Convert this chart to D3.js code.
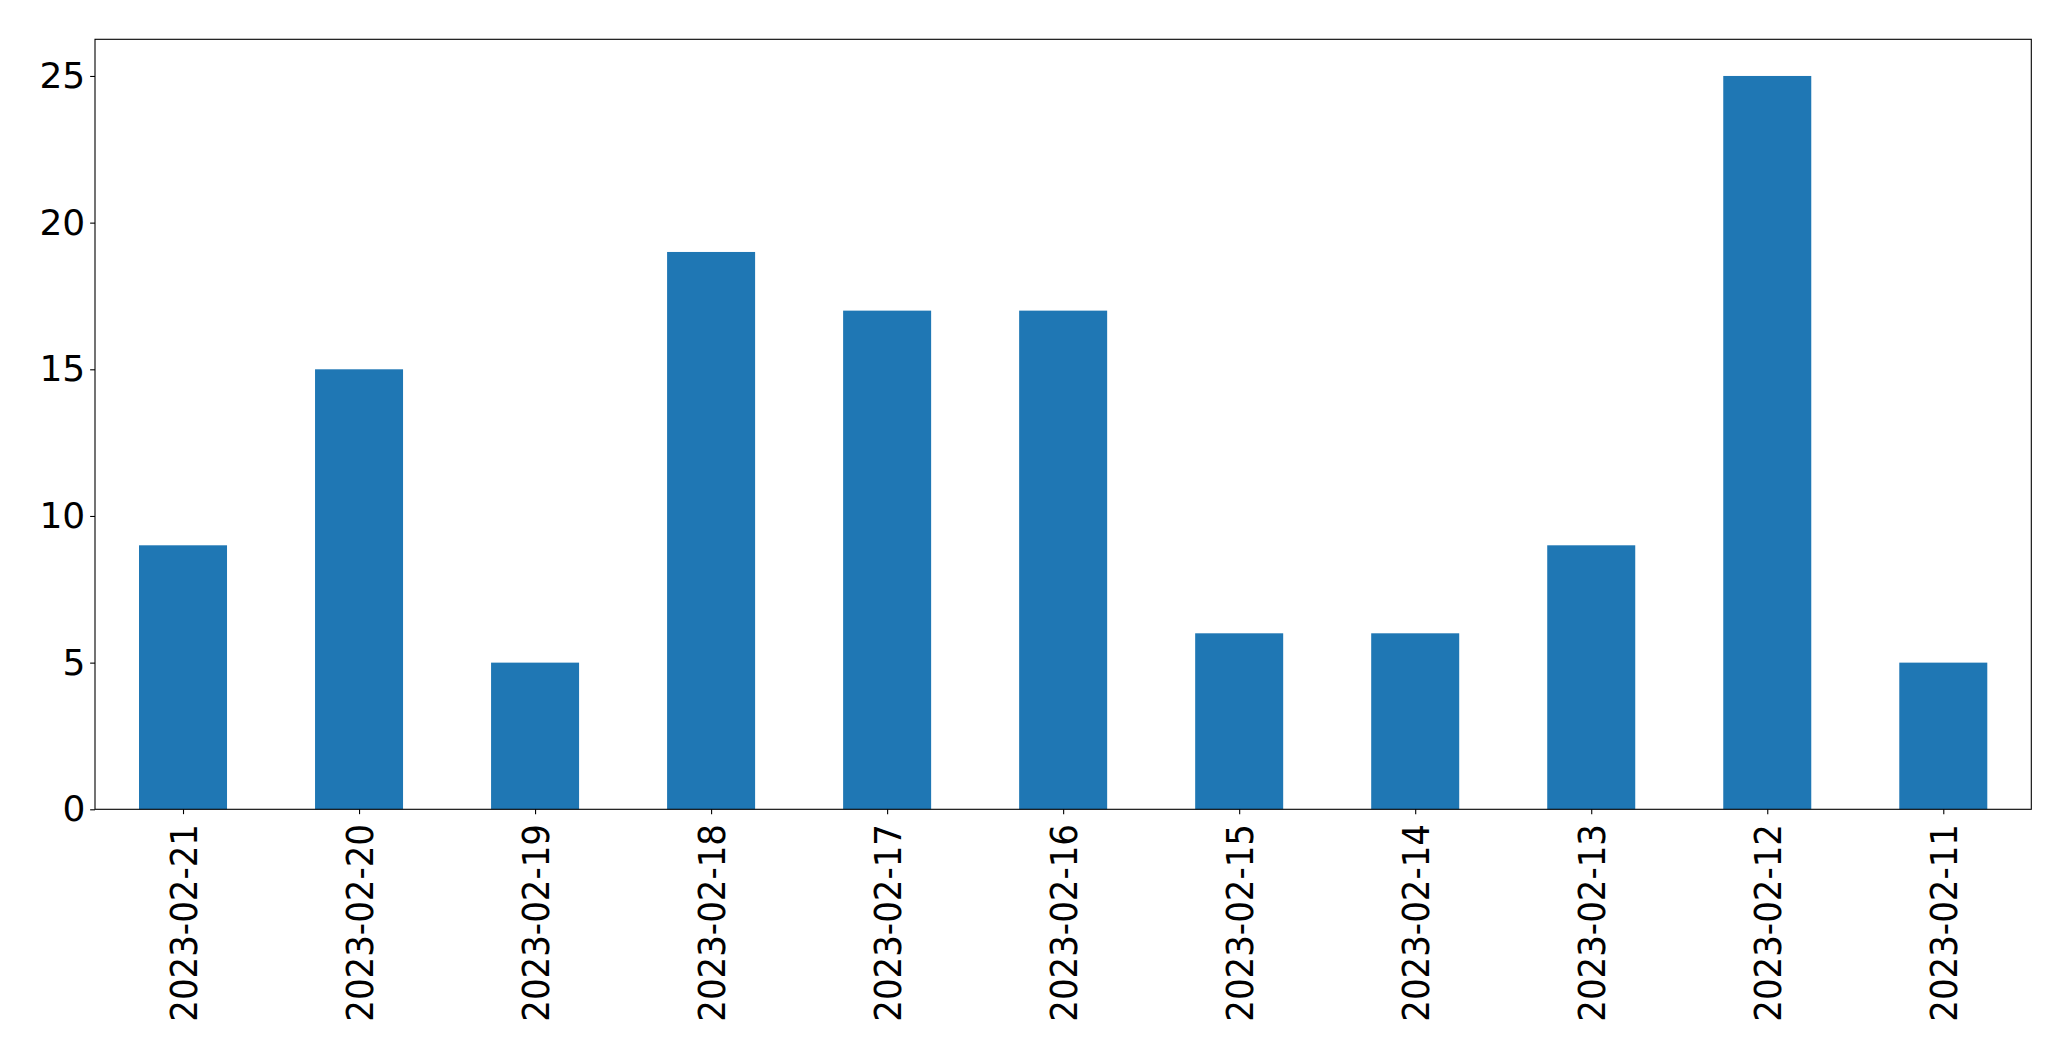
<!DOCTYPE html>
<html>
<head>
<meta charset="utf-8">
<script src="https://cdn.jsdelivr.net/npm/d3@7"></script>
<style>
  body { margin: 0; background: #fff; }
  svg text { font-family: "DejaVu Sans", sans-serif; fill: #000; }
</style>
</head>
<body>
<svg id="chart" width="2071" height="1061"></svg>
<script>
// data
var dates = ["2023-02-21", "2023-02-20", "2023-02-19", "2023-02-18", "2023-02-17",
             "2023-02-16", "2023-02-15", "2023-02-14", "2023-02-13", "2023-02-12", "2023-02-11"];
var counts = [9, 15, 5, 19, 17, 17, 6, 6, 9, 25, 5];
var yTicks = [0, 5, 10, 15, 20, 25];

var margin = {top: 39.3, right: 39.7, bottom: 251.7, left: 95};
var width = 2071 - margin.left - margin.right;
var height = 1061 - margin.top - margin.bottom;
var tickLen = 4.86, pad = 4.86, fontSize = 36;

var svg = d3.select("#chart")
    .append("g")
    .attr("transform", "translate(" + margin.left + "," + margin.top + ")");

// index-based linear scale, like -0.5..n-0.5
var x = d3.scaleLinear().domain([-0.5, dates.length - 0.5]).range([0, width]);
var y = d3.scaleLinear().domain([0, d3.max(counts) * 1.05]).range([height, 0]);
var barW = x(0.5) - x(0);

svg.selectAll(".bar")
    .data(counts)
    .enter().append("rect")
    .attr("class", "bar")
    .attr("x", function (d, i) { return x(i) - barW / 2; })
    .attr("width", barW)
    .attr("y", function (d) { return y(d); })
    .attr("height", function (d) { return height - y(d); })
    .style("fill", "#1f77b4");

// y axis
var yAxis = svg.append("g")
    .attr("class", "y axis")
    .call(d3.axisLeft(y).tickValues(yTicks).tickSize(tickLen).tickPadding(pad).tickFormat(d3.format("d")));
yAxis.select(".domain").remove();
yAxis.selectAll("line").attr("stroke", "#000").attr("stroke-width", 1.1);
yAxis.selectAll("text")
    .style("font-size", fontSize + "px")
    .attr("font-family", null);

// x axis
var xAxis = svg.append("g")
    .attr("class", "x axis")
    .attr("transform", "translate(0," + height + ")")
    .call(d3.axisBottom(x).tickValues(d3.range(dates.length)).tickSize(tickLen)
        .tickFormat(function (i) { return dates[i]; }));
xAxis.select(".domain").remove();
xAxis.selectAll("line").attr("stroke", "#000").attr("stroke-width", 1.1);
xAxis.selectAll("text")
    .style("font-size", fontSize + "px")
    .attr("y", 0)
    .attr("dy", "0.35em")
    .attr("transform", "translate(0," + (tickLen + pad + 5) + ") rotate(-90) scale(0.945,1.04)")
    .style("text-anchor", "end");

// frame
svg.append("rect")
    .attr("width", width)
    .attr("height", height)
    .style("fill", "none")
    .style("stroke", "#000")
    .style("stroke-width", 1.1);
</script>
</body>
</html>
